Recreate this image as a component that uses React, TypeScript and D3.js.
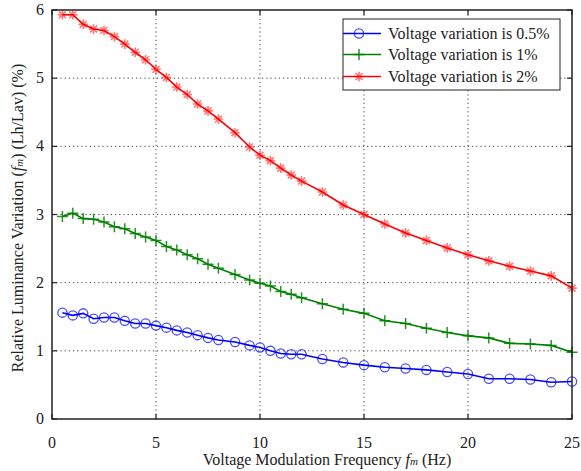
import React from "react";
import * as d3 from "d3";

// Frequencies (Hz) of the measured points
const frequencies = [
  0.5, 1, 1.5, 2, 2.5, 3, 3.5, 4, 4.5, 5, 5.5, 6, 6.5, 7, 7.5, 8, 8.8, 9.5, 10, 10.5, 11, 11.5, 12,
  13, 14, 15, 16, 17, 18, 19, 20, 21, 22, 23, 24, 25,
];

// Voltage variation 0.5%
const seriesHalf = [
  1.56, 1.52, 1.55, 1.47, 1.49, 1.49, 1.44, 1.4, 1.4, 1.37, 1.34, 1.3, 1.27, 1.23, 1.19, 1.16, 1.13,
  1.08, 1.05, 1.0, 0.96, 0.95, 0.95, 0.88, 0.83, 0.79, 0.76, 0.74, 0.72, 0.69, 0.66, 0.59, 0.59, 0.58,
  0.54, 0.55,
];

// Voltage variation 1%
const seriesOne = [
  2.97, 3.02, 2.94, 2.93, 2.89, 2.82, 2.79, 2.72, 2.67, 2.62, 2.53, 2.48, 2.41, 2.35, 2.27, 2.21, 2.12,
  2.04, 1.99, 1.95, 1.87, 1.83, 1.78, 1.69, 1.61, 1.55, 1.44, 1.4, 1.33, 1.27, 1.22, 1.19, 1.11, 1.1,
  1.08, 0.98,
];

// Voltage variation 2%
const seriesTwo = [
  5.93, 5.93, 5.79, 5.72, 5.7, 5.61, 5.5, 5.38, 5.27, 5.13, 5.01, 4.87, 4.76, 4.62, 4.52, 4.4, 4.2,
  3.99, 3.87, 3.79, 3.68, 3.58, 3.49, 3.33, 3.14, 3.0, 2.86, 2.73, 2.62, 2.51, 2.41, 2.32, 2.24, 2.17,
  2.1, 1.92,
];

const xTicks = [0, 5, 10, 15, 20, 25];
const yTicks = [0, 1, 2, 3, 4, 5, 6];

const legendLabels = [
  "Voltage variation is 0.5%",
  "Voltage variation is 1%",
  "Voltage variation is 2%",
];

const W = 581;
const H = 471;
const margin = { top: 10, right: 9, bottom: 52, left: 52 };
const font = "'Liberation Serif', 'Times New Roman', serif";
const textColor = "#222";

type MarkerKind = "circle" | "plus" | "star";

const Marker = ({ kind, x, y, color }: { kind: MarkerKind; x: number; y: number; color: string }) => {
  if (kind === "circle") {
    return <circle cx={x} cy={y} r={4.6} fill="none" stroke={color} strokeWidth={1.3} strokeOpacity={0.7} />;
  }
  if (kind === "plus") {
    const s = 5.5;
    return (
      <path
        d={`M${x - s},${y}H${x + s}M${x},${y - s}V${y + s}`}
        stroke={color}
        strokeWidth={1.5}
        strokeOpacity={0.85}
      />
    );
  }
  const s = 4.8;
  const d = s * 0.72;
  return (
    <path
      d={`M${x - s},${y}H${x + s}M${x},${y - s}V${y + s}M${x - d},${y - d}L${x + d},${y + d}M${x - d},${y + d}L${x + d},${y - d}`}
      stroke={color}
      strokeWidth={1.6}
      strokeOpacity={0.55}
    />
  );
};

export default function App() {
  const x = d3.scaleLinear().domain([0, 25]).range([margin.left, W - margin.right]);
  const y = d3.scaleLinear().domain([0, 6]).range([H - margin.bottom, margin.top]);

  const series = [
    { values: seriesHalf, color: "#0000ff", marker: "circle" as MarkerKind },
    { values: seriesOne, color: "#008000", marker: "plus" as MarkerKind },
    { values: seriesTwo, color: "#ff0000", marker: "star" as MarkerKind },
  ];

  const line = d3
    .line<number>()
    .x((_, i) => x(frequencies[i]))
    .y((d) => y(d));

  const x0 = x(0);
  const x1 = x(25);
  const y0 = y(0);
  const y1 = y(6);
  const tickLen = 5;

  // legend box
  const lg = { x: 343, y: 19, w: 217, h: 71 };
  const rowY = [33.5, 54.5, 76.5];

  return (
    <svg
      width={W}
      height={H}
      style={{ position: "absolute", left: 0, top: 0, background: "#fff" }}
      fontFamily={font}
    >
      <rect width={W} height={H} fill="#fff" />

      {/* grid */}
      <g stroke="#444" strokeWidth={1} strokeDasharray="1.2,3">
        {xTicks.slice(1, -1).map((t) => (
          <line key={"gx" + t} x1={x(t)} x2={x(t)} y1={y0} y2={y1} />
        ))}
        {yTicks.slice(1, -1).map((t) => (
          <line key={"gy" + t} x1={x0} x2={x1} y1={y(t)} y2={y(t)} />
        ))}
      </g>

      {/* ticks, inward on all sides */}
      <g stroke="#222" strokeWidth={1.2}>
        {xTicks.map((t) => (
          <g key={"tx" + t}>
            <line x1={x(t)} x2={x(t)} y1={y0} y2={y0 - tickLen} />
            <line x1={x(t)} x2={x(t)} y1={y1} y2={y1 + tickLen} />
          </g>
        ))}
        {yTicks.map((t) => (
          <g key={"ty" + t}>
            <line x1={x0} x2={x0 + tickLen} y1={y(t)} y2={y(t)} />
            <line x1={x1} x2={x1 - tickLen} y1={y(t)} y2={y(t)} />
          </g>
        ))}
      </g>

      {/* data */}
      {series.map((s, si) => (
        <g key={"s" + si}>
          <path d={line(s.values) ?? ""} fill="none" stroke={s.color} strokeWidth={1.6} />
          {s.values.map((v, i) => (
            <Marker key={i} kind={s.marker} x={x(frequencies[i])} y={y(v)} color={s.color} />
          ))}
        </g>
      ))}

      {/* frame */}
      <rect x={x0} y={y1} width={x1 - x0} height={y0 - y1} fill="none" stroke="#222" strokeWidth={1.5} />

      {/* tick labels */}
      <g fontSize={16} fill={textColor}>
        {xTicks.map((t) => (
          <text key={"lx" + t} x={x(t)} y={y0 + 29} textAnchor="middle">
            {t}
          </text>
        ))}
        {yTicks.map((t) => (
          <text key={"ly" + t} x={x0 - 8} y={y(t) + 5} textAnchor="end">
            {t}
          </text>
        ))}
      </g>

      {/* axis titles */}
      <text x={327} y={465} textAnchor="middle" fontSize={16} fill={textColor}>
        Voltage Modulation Frequency <tspan fontStyle="italic">f</tspan>
        <tspan fontStyle="italic" fontSize={11}>m</tspan> (Hz)
      </text>
      <text
        transform={`translate(23,${218}) rotate(-90)`}
        textAnchor="middle"
        fontSize={16}
        fill={textColor}
      >
        Relative Luminance Variation (<tspan fontStyle="italic">f</tspan>
        <tspan fontStyle="italic" fontSize={11}>m</tspan>) (Lh/Lav) (%)
      </text>

      {/* legend */}
      <rect x={lg.x} y={lg.y} width={lg.w} height={lg.h} fill="#fff" stroke="#222" strokeWidth={1} />
      {series.map((s, i) => (
        <g key={"lg" + i}>
          <line x1={lg.x} x2={lg.x + 38} y1={rowY[i]} y2={rowY[i]} stroke={s.color} strokeWidth={1.6} />
          <Marker kind={s.marker} x={lg.x + 16} y={rowY[i]} color={s.color} />
          <text x={lg.x + 45} y={rowY[i] + 5} fontSize={16} fill={textColor}>
            {legendLabels[i]}
          </text>
        </g>
      ))}
    </svg>
  );
}
